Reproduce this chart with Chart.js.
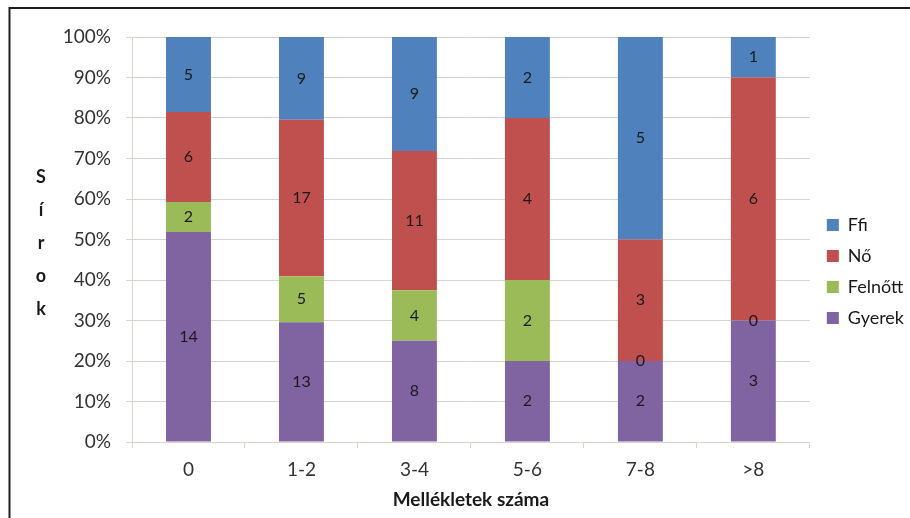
<!DOCTYPE html>
<html><head><meta charset="utf-8">
<script src="https://cdn.jsdelivr.net/npm/chart.js@4/dist/chart.umd.min.js"></script>
<style>html,body{margin:0;padding:0;background:#fff;}#wrap{position:relative;width:910px;height:518px;}</style>
</head><body><div id="wrap"><canvas id="c" width="910" height="518"></canvas></div>
<script>
const categories = ['0', '1-2', '3-4', '5-6', '7-8', '>8'];
const gyerek = [14, 13, 8, 2, 2, 3];
const felnott = [2, 5, 4, 2, 0, 0];
const no = [6, 17, 11, 4, 3, 6];
const ffi = [5, 9, 9, 2, 5, 1];
const seriesNames = ['Gyerek', 'Felnőtt', 'Nő', 'Ffi'];
const seriesColors = ['#8064A2', '#9BBB59', '#C0504D', '#4F81BD'];
const yTickLabels = ['0%', '10%', '20%', '30%', '40%', '50%', '60%', '70%', '80%', '90%', '100%'];
const yTitleLetters = ['S', 'í', 'r', 'o', 'k'];
const xTitle = 'Mellékletek száma';

const counts = [gyerek, felnott, no, ffi];
const totals = categories.map((_, i) => counts.reduce((s, a) => s + a[i], 0));
const FONT = 'Lato, "Open Sans", sans-serif';
const GRID = '#d9d2ce';

const datasets = counts.map((arr, k) => ({
  label: seriesNames[k],
  data: arr.map((v, i) => v / totals[i] * 100),
  counts: arr,
  backgroundColor: seriesColors[k],
  borderWidth: 0,
  barPercentage: 0.8,
  categoryPercentage: 0.497
}));

const framePlugin = {
  id: 'frame',
  beforeDraw(chart) {
    const ctx = chart.ctx;
    ctx.save();
    ctx.fillStyle = '#fff';
    ctx.fillRect(0, 0, chart.width, chart.height);
    ctx.strokeStyle = '#1e1e1e';
    ctx.lineWidth = 2;
    ctx.strokeRect(9.5, 8, 1200, 1200);
    ctx.restore();
  },
  afterLayout(chart) {
    const lg = chart.legend;
    if (lg) { lg.top -= 6; lg.bottom -= 6; lg.left += 4; lg.right += 4; }
  },
  afterDraw(chart) {
    const ctx = chart.ctx;
    ctx.save();
    ctx.font = 'bold 18px ' + FONT;
    ctx.fillStyle = '#1a1a1a';
    ctx.textAlign = 'center';
    ctx.textBaseline = 'alphabetic';
    yTitleLetters.forEach((ch, i) => ctx.fillText(ch, 41, 183 + i * 33));
    ctx.restore();
  }
};

const labelPlugin = {
  id: 'segLabels',
  afterDatasetsDraw(chart) {
    const ctx = chart.ctx;
    ctx.save();
    ctx.font = '16px ' + FONT;
    ctx.fillStyle = '#1a1a1a';
    ctx.textAlign = 'center';
    ctx.textBaseline = 'middle';
    chart.data.datasets.forEach((ds, di) => {
      const meta = chart.getDatasetMeta(di);
      meta.data.forEach((el, i) => {
        ctx.fillText(String(ds.counts[i]), el.x, (el.y + el.base) / 2);
      });
    });
    ctx.restore();
  }
};

new Chart(document.getElementById('c'), {
  type: 'bar',
  data: { labels: categories, datasets },
  plugins: [framePlugin, labelPlugin],
  options: {
    responsive: false,
    devicePixelRatio: 1,
    animation: false,
    layout: { padding: { top: 37, left: 0, right: 0, bottom: 0 } },
    plugins: {
      tooltip: { enabled: false },
      legend: {
        position: 'right',
        reverse: true,
        align: 'center',
        labels: {
          boxWidth: 12, boxHeight: 12, padding: 13,
          font: { family: FONT, size: 18 }, color: '#1a1a1a'
        }
      }
    },
    scales: {
      x: {
        stacked: true,
        afterFit(s) { s.height = 76; },
        grid: { drawOnChartArea: false, drawTicks: true, tickLength: 6, color: GRID, offset: true },
        border: { color: GRID },
        ticks: { font: { family: FONT, size: 19 }, color: '#333', padding: 10 },
        title: { display: true, text: xTitle, font: { family: FONT, size: 19, weight: 'bold' }, color: '#1a1a1a', padding: { top: 0, bottom: 7 } }
      },
      y: {
        stacked: true,
        min: 0, max: 100,
        afterFit(s) { s.width = 132; },
        grid: { color: GRID, tickLength: 6 },
        border: { color: GRID },
        ticks: {
          stepSize: 10,
          font: { family: FONT, size: 19 }, color: '#333', padding: 15,
          callback: (v) => yTickLabels[Math.round(v / 10)]
        }
      }
    }
  }
});
</script></body></html>
